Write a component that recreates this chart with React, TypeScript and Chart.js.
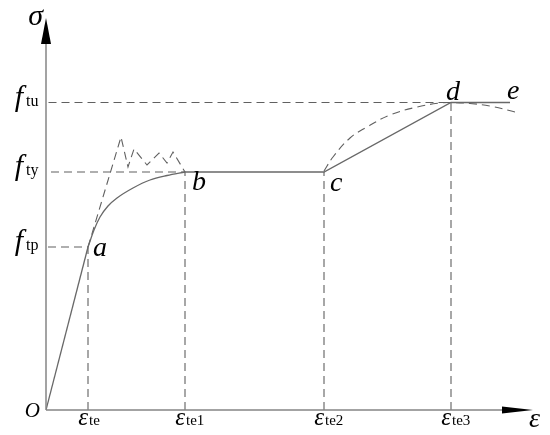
import React, { useEffect, useRef } from "react";
import { Chart, registerables } from "chart.js";

Chart.register(...registerables);

// ---- data (arbitrary units: strain on x, stress on y) ----
const strainTicks = [42, 139, 278, 405];
const strainTickSubs = ["te", "te1", "te2", "te3"];
const stressTicks = [163, 238, 307.5];
const stressTickSubs = ["tp", "ty", "tu"];

const elasticX = [0, 42];
const elasticY = [0, 163];

const hardenX = [42, 48, 54, 62, 71, 87, 104, 121, 139];
const hardenY = [163, 180, 193, 204, 212, 222, 230, 234.5, 238];

const plateauX = [139, 278, 405, 464];
const plateauY = [238, 238, 307.5, 307.5];

const zigzagX = [42, 75, 82, 88, 101, 113, 121, 127, 139];
const zigzagY = [163, 273, 243, 261, 245, 257, 247, 258, 238];

const curveX = [278, 287, 304, 321, 344, 371, 394, 405, 424, 444, 469];
const curveY = [239, 253, 272, 283, 295, 303, 307, 307.5, 306.5, 304, 298];

const pointLabels = ["a", "b", "c", "d", "e"];
const pointLabelX = [42, 139, 278, 405, 464];
const pointLabelY = [163, 238, 238, 307.5, 307.5];

const X_MAX = 487;
const Y_MAX = 392;

// ---- styling ----
const labelOffsets: [number, number][] = [
  [5, 9],
  [7, 18],
  [6, 19],
  [-5, -3],
  [-3, -3.5],
];
const SERIF = '"Liberation Serif", "Times New Roman", serif';

const zip = (xs: number[], ys: number[]) => xs.map((x, i) => ({ x, y: ys[i] }));

const diagramPlugin = {
  id: "diagram",
  afterDraw(chart: any) {
    const { ctx } = chart;
    const xs = chart.scales.x;
    const ys = chart.scales.y;
    const x0 = xs.getPixelForValue(0);
    const y0 = ys.getPixelForValue(0);
    const xEnd = xs.getPixelForValue(X_MAX);
    const yTop = ys.getPixelForValue(Y_MAX);
    ctx.save();
    // axes
    ctx.strokeStyle = "#858585";
    ctx.lineWidth = 1.5;
    ctx.beginPath();
    ctx.moveTo(x0, y0);
    ctx.lineTo(x0, yTop + 20);
    ctx.moveTo(x0, y0);
    ctx.lineTo(xEnd - 28, y0);
    ctx.stroke();
    // arrows
    ctx.fillStyle = "#000";
    ctx.beginPath();
    ctx.moveTo(x0, yTop);
    ctx.lineTo(x0 - 5, yTop + 26);
    ctx.lineTo(x0 + 5, yTop + 26);
    ctx.closePath();
    ctx.fill();
    ctx.beginPath();
    ctx.moveTo(xEnd, y0);
    ctx.lineTo(xEnd - 31, y0 - 3.5);
    ctx.lineTo(xEnd - 31, y0 + 3.5);
    ctx.closePath();
    ctx.fill();

    ctx.fillStyle = "#000";
    ctx.textBaseline = "alphabetic";
    // axis titles
    ctx.font = `italic 30px ${SERIF}`;
    ctx.textAlign = "right";
    ctx.fillText("\u03c3", x0 - 3, yTop + 7);
    ctx.font = `italic 28px ${SERIF}`;
    ctx.textAlign = "left";
    ctx.fillText("\u03b5", xEnd - 4, y0 + 17);
    ctx.font = `italic 21px ${SERIF}`;
    ctx.textAlign = "right";
    ctx.fillText("O", x0 - 6, y0 + 7);

    // strain ticks
    strainTicks.forEach((v, i) => {
      const px = xs.getPixelForValue(v);
      ctx.font = `italic 25px ${SERIF}`;
      ctx.textAlign = "right";
      ctx.fillText("\u03b5", px, y0 + 15);
      ctx.font = `15px ${SERIF}`;
      ctx.textAlign = "left";
      ctx.fillText(strainTickSubs[i], px + 1, y0 + 15);
    });
    // stress ticks
    stressTicks.forEach((v, i) => {
      const py = ys.getPixelForValue(v);
      ctx.font = `italic 30px ${SERIF}`;
      ctx.textAlign = "right";
      ctx.fillText("f", x0 - 23, py + 3);
      ctx.font = `16px ${SERIF}`;
      ctx.textAlign = "left";
      ctx.fillText(stressTickSubs[i], x0 - 20, py + 3);
    });
    // point labels
    ctx.font = `italic 28px ${SERIF}`;
    ctx.textAlign = "left";
    pointLabels.forEach((t, i) => {
      const px = xs.getPixelForValue(pointLabelX[i]);
      const py = ys.getPixelForValue(pointLabelY[i]);
      ctx.fillText(t, px + labelOffsets[i][0], py + labelOffsets[i][1]);
    });
    ctx.restore();
  },
};

export default function App() {
  const ref = useRef<HTMLCanvasElement>(null);
  useEffect(() => {
    if (!ref.current) return;
    const solid = { borderColor: "#686868", borderWidth: 1.3, pointRadius: 0, fill: false };
    const dashed = { borderColor: "#606060", borderWidth: 1.1, borderDash: [8, 5], pointRadius: 0, fill: false };
    const guide = (xs: number[], ys: number[]) => ({ ...dashed, data: zip(xs, ys), tension: 0 });
    const chart = new Chart(ref.current, {
      type: "line",
      data: {
        datasets: [
          { ...solid, data: zip(elasticX, elasticY), tension: 0 },
          { ...solid, data: zip(hardenX, hardenY), cubicInterpolationMode: "monotone" },
          { ...solid, data: zip(plateauX, plateauY), tension: 0 },
          { ...dashed, data: zip(zigzagX, zigzagY), tension: 0 },
          { ...dashed, data: zip(curveX, curveY), tension: 0.4 },
          guide([strainTicks[0], strainTicks[0], 0], [0, stressTicks[0], stressTicks[0]]),
          guide([strainTicks[1], strainTicks[1], 0], [0, stressTicks[1], stressTicks[1]]),
          guide([strainTicks[2], strainTicks[2]], [0, stressTicks[1]]),
          guide([strainTicks[3], strainTicks[3], 0], [0, stressTicks[2], stressTicks[2]]),
        ] as any,
      },
      options: {
        animation: false,
        responsive: false,
        events: [],
        layout: { padding: { left: 46, right: 17, top: 18, bottom: 25 } },
        plugins: { legend: { display: false }, tooltip: { enabled: false } },
        scales: {
          x: { type: "linear", min: 0, max: X_MAX, display: false },
          y: { type: "linear", min: 0, max: Y_MAX, display: false },
        },
      },
      plugins: [diagramPlugin],
    });
    return () => chart.destroy();
  }, []);
  return (
    <div style={{ position: "fixed", left: 0, top: 0, width: 550, height: 435, background: "#fff" }}>
      <canvas ref={ref} width={550} height={435} />
    </div>
  );
}
